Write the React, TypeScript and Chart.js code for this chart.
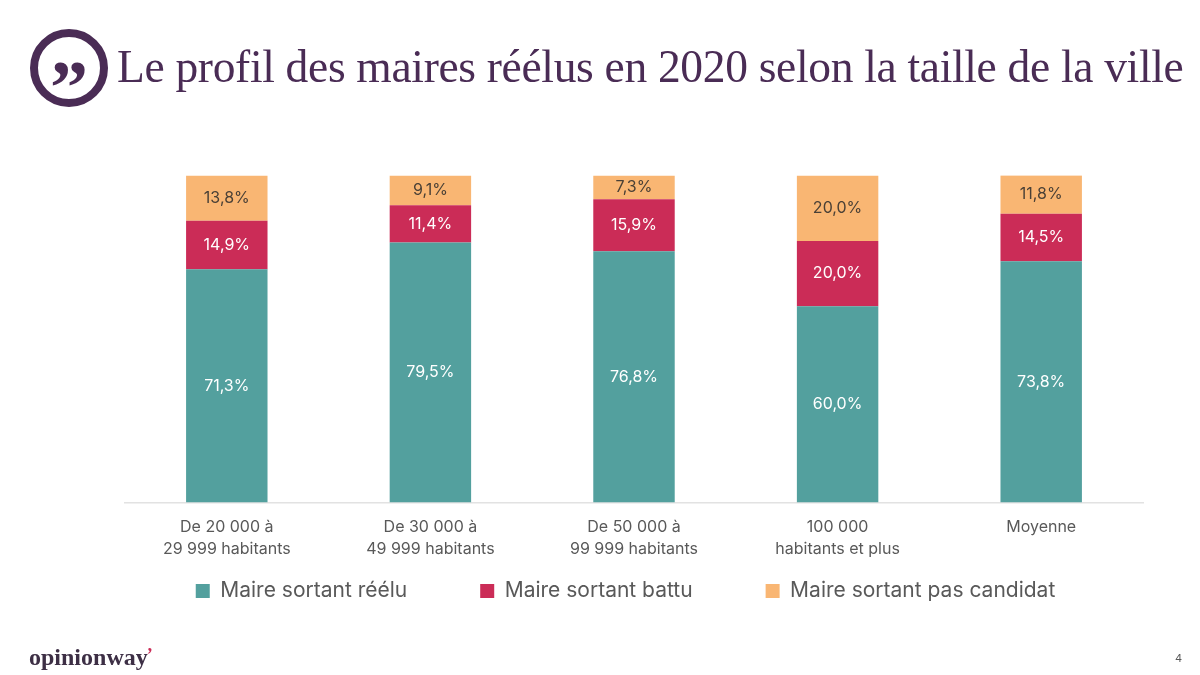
import React, { useEffect, useRef } from "react";
import { Chart, registerables } from "chart.js";

Chart.register(...registerables);

const categories = [
  ["De 20 000 à", "29 999 habitants"],
  ["De 30 000 à", "49 999 habitants"],
  ["De 50 000 à", "99 999 habitants"],
  ["100 000", "habitants et plus"],
  ["Moyenne"],
];
const reelu = [71.3, 79.5, 76.8, 60.0, 73.8];
const battu = [14.9, 11.4, 15.9, 20.0, 14.5];
const pasCandidat = [13.8, 9.1, 7.3, 20.0, 11.8];

const TEAL = "#53A09E";
const RED = "#CB2C57";
const ORANGE = "#F9B673";
const PURPLE = "#4A2C55";
const GREY = "#595959";
const FONT = "Inter, 'Open Sans', sans-serif";

const valueLabels = {
  id: "valueLabels",
  afterDatasetsDraw(chart: any) {
    const { ctx } = chart;
    ctx.save();
    ctx.font = `16px ${FONT}`;
    ctx.textAlign = "center";
    ctx.textBaseline = "middle";
    chart.data.datasets.forEach((ds: any, i: number) => {
      ctx.fillStyle = i === 2 ? "#4A4036" : "#FFFFFF";
      chart.getDatasetMeta(i).data.forEach((bar: any, j: number) => {
        const p = bar.getProps(["x", "y", "base"], true);
        const top = Math.max(p.y, chart.chartArea.top);
        ctx.fillText(ds.data[j].toFixed(1).replace(".", ",") + "%", p.x, (top + p.base) / 2);
      });
    });
    ctx.restore();
  },
};

const legendShift = {
  id: "legendShift",
  afterLayout(chart: any) {
    chart.legend.left -= 8.5;
    chart.legend.right -= 8.5;
    chart.legend.top -= 58;
    chart.legend.bottom -= 58;
  },
};

export default function App() {
  const ref = useRef<HTMLCanvasElement>(null);
  useEffect(() => {
    document.body.style.margin = "0";
    document.body.style.background = "#fff";
    const chart = new Chart(ref.current!, {
      type: "bar",
      data: {
        labels: categories,
        datasets: [
          { label: "Maire sortant réélu", data: reelu, backgroundColor: TEAL },
          { label: "Maire sortant battu", data: battu, backgroundColor: RED },
          { label: "Maire sortant pas candidat", data: pasCandidat, backgroundColor: ORANGE },
        ],
      },
      options: {
        responsive: false,
        animation: false,
        layout: { padding: { left: 125, right: 57, top: 175.5, bottom: 5.5 } },
        datasets: { bar: { categoryPercentage: 0.4, barPercentage: 1 } },
        scales: {
          x: {
            stacked: true,
            grid: { display: false },
            border: { display: true, color: "#E2E2E2", width: 1.5 },
            ticks: {
              color: GREY,
              font: { family: FONT, size: 16, lineHeight: 1.375 },
              padding: 5.5,
              maxRotation: 0,
              autoSkip: false,
            },
          },
          y: { stacked: true, display: false, min: 0, max: 100 },
        },
        plugins: {
          tooltip: { enabled: false },
          title: { display: false },
          legend: {
            position: "bottom",
            labels: {
              color: GREY,
              font: { family: FONT, size: 21 },
              boxWidth: 14,
              boxHeight: 14,
              padding: 73,
            },
          },
        },
      } as any,
      plugins: [legendShift, valueLabels],
    });
    return () => chart.destroy();
  }, []);

  return (
    <div style={{ position: "relative", width: 1200, height: 675, overflow: "hidden", background: "#fff" }}>
      <canvas ref={ref} width={1200} height={675} style={{ position: "absolute", left: 0, top: 0, display: "block" }} />
      <div
        style={{
          position: "absolute", left: 30, top: 29, width: 62, height: 62, border: `8px solid ${PURPLE}`,
          borderRadius: "50%", color: PURPLE, fontFamily: "'Liberation Serif', serif", fontWeight: 700,
          fontSize: 76, lineHeight: "62px", textAlign: "center", overflow: "hidden",
        }}
      >
        <span style={{ position: "relative", top: 19 }}>”</span>
      </div>
      <div
        style={{
          position: "absolute", left: 117, top: 40, color: PURPLE, whiteSpace: "nowrap",
          fontFamily: "'Liberation Serif', serif", fontSize: 45.5, lineHeight: "54px", letterSpacing: -0.32,
        }}
      >
        Le profil des maires réélus en 2020 selon la taille de la ville
      </div>
      <div
        style={{
          position: "absolute", left: 29, top: 643, color: "#3D2F45", whiteSpace: "nowrap",
          fontFamily: "'Liberation Serif', serif", fontWeight: 700, fontSize: 24, lineHeight: "28px",
        }}
      >
        opinionway<span style={{ color: RED, fontSize: 18, position: "relative", top: -4, marginLeft: -1 }}>’</span>
      </div>
      <div
        style={{
          position: "absolute", left: 1175, top: 651, color: GREY, fontFamily: FONT, fontSize: 11, lineHeight: "14px",
        }}
      >
        4
      </div>
    </div>
  );
}
